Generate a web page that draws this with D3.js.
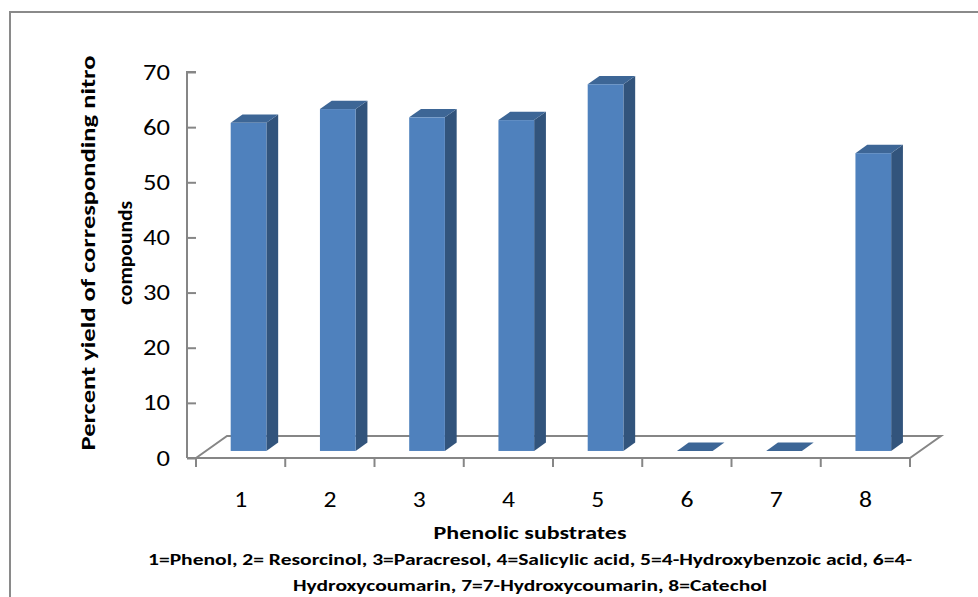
<!DOCTYPE html>
<html>
<head>
<meta charset="utf-8">
<script src="https://cdn.jsdelivr.net/npm/d3@7"></script>
<style>
  body { margin: 0; background: #fff; }
  svg text { font-family: Carlito, Calibri, "Open Sans", sans-serif; fill: #000; }
</style>
</head>
<body>
<div id="chart"></div>
<script>
const categories = ['1', '2', '3', '4', '5', '6', '7', '8'];
const yields = [59.5, 62, 60.5, 60, 66.5, 0, 0, 54];
const yTicks = [0, 10, 20, 30, 40, 50, 60, 70];
const yTitle = ['Percent yield of corresponding nitro', 'compounds'];
const xTitle = 'Phenolic substrates';
const notes = [
  '1=Phenol, 2= Resorcinol, 3=Paracresol, 4=Salicylic acid, 5=4-Hydroxybenzoic acid, 6=4-',
  'Hydroxycoumarin, 7=7-Hydroxycoumarin, 8=Catechol'
];

const width = 978, height = 597;
const depth = { x: 31, y: -22 };   // full floor depth offset
const barDepth = [0.32, 0.70];     // bar front/back as fraction of depth
const colors = { front: '#4f81bd', side: '#32547c', top: '#3d6696', axis: '#868686' };

const svg = d3.select('#chart').append('svg')
  .attr('width', width)
  .attr('height', height);

// outer border
svg.append('rect')
  .attr('x', 10).attr('y', 12)
  .attr('width', 990).attr('height', 600)
  .attr('fill', 'none')
  .attr('stroke', '#8a8a8a')
  .attr('stroke-width', 2);

const x = d3.scaleBand().domain(categories).range([196, 910]);
const y = d3.scaleLinear().domain([0, 70]).range([458, 72]);

// projected point: band position px, value v, depth fraction d
const P = (px, v, d) => [px + depth.x * d, y(v) + depth.y * d];
const poly = pts => pts.map(p => p.join(',')).join(' ');

// floor
const floor = svg.append('g')
  .attr('fill', 'none')
  .attr('stroke', colors.axis)
  .attr('stroke-width', 2);
const x0 = x.range()[0], x1 = x.range()[1];
floor.append('polyline')
  .attr('points', poly([P(x0, 0, 0), P(x0, 0, 1), P(x1, 0, 1), P(x1, 0, 0)]));

// bars
const bw = x.bandwidth() * 0.4;
const bars = svg.append('g').selectAll('g')
  .data(categories.map((c, i) => ({ c, v: yields[i] })))
  .join('g');

bars.each(function (d) {
  const g = d3.select(this);
  const l = x(d.c) + (x.bandwidth() - bw) / 2 - 2;
  const r = l + bw;
  const [f, b] = barDepth;
  if (d.v > 0) {
    g.append('polygon')
      .attr('points', poly([P(r, 0, f), P(r, 0, b), P(r, d.v, b), P(r, d.v, f)]))
      .attr('fill', colors.side);
    g.append('polygon')
      .attr('points', poly([P(l, d.v, f), P(r, d.v, f), P(r, d.v, b), P(l, d.v, b)]))
      .attr('fill', colors.top);
    g.append('rect')
      .attr('x', P(l, 0, f)[0])
      .attr('y', P(l, d.v, f)[1])
      .attr('width', bw)
      .attr('height', y(0) - y(d.v))
      .attr('fill', colors.front);
  } else {
    g.append('polygon')
      .attr('points', poly([P(l, 0, f), P(r, 0, f), P(r, 0, b), P(l, 0, b)]))
      .attr('fill', colors.top);
  }
});

// y axis
const yAxis = svg.append('g')
  .attr('transform', `translate(${x0},0)`)
  .call(d3.axisLeft(y).tickValues(yTicks).tickSize(9).tickPadding(17));
yAxis.selectAll('path, line').attr('stroke', colors.axis).attr('stroke-width', 2);
yAxis.select('.domain').attr('d', `M0,${y(70)}H-9V${y(0)}`);
yAxis.selectAll('text')
  .attr('font-size', 22).attr('font-family', null)
  .attr('textLength', d => String(d).length * 13.5)
  .attr('lengthAdjust', 'spacingAndGlyphs');

// x axis
const xAxis = svg.append('g')
  .attr('transform', `translate(0,${y(0)})`)
  .call(d3.axisBottom(x).tickSize(0).tickPadding(33));
xAxis.select('.domain').attr('stroke', colors.axis).attr('stroke-width', 2)
  .attr('d', `M${x0 - 9},0H${x1}`);
xAxis.selectAll('text')
  .attr('font-size', 22).attr('font-family', null)
  .attr('textLength', 13)
  .attr('lengthAdjust', 'spacingAndGlyphs');
svg.append('g').selectAll('line')
  .data(categories.concat(['end']))
  .join('line')
  .attr('x1', (d, i) => x0 + i * x.step())
  .attr('x2', (d, i) => x0 + i * x.step())
  .attr('y1', y(0)).attr('y2', y(0) + 9)
  .attr('stroke', colors.axis).attr('stroke-width', 2);

// titles
svg.append('g')
  .attr('transform', 'translate(88,253) rotate(-90)')
  .selectAll('text')
  .data(yTitle)
  .join('text')
  .attr('y', (d, i) => i * 37)
  .attr('dy', '0.35em')
  .attr('text-anchor', 'middle')
  .attr('font-size', 21)
  .attr('font-weight', 'bold')
  .attr('textLength', (d, i) => i === 0 ? 395 : 104)
  .attr('lengthAdjust', 'spacingAndGlyphs')
  .text(d => d);

svg.append('text')
  .attr('x', 530).attr('y', 532)
  .attr('dy', '0.35em')
  .attr('text-anchor', 'middle')
  .attr('font-size', 19)
  .attr('font-weight', 'bold')
  .attr('textLength', 193)
  .attr('lengthAdjust', 'spacingAndGlyphs')
  .text(xTitle);

svg.append('g').selectAll('text')
  .data(notes)
  .join('text')
  .attr('x', 530)
  .attr('y', (d, i) => 559 + i * 26)
  .attr('dy', '0.35em')
  .attr('text-anchor', 'middle')
  .attr('font-size', 16)
  .attr('font-weight', 'bold')
  .attr('textLength', (d, i) => i === 0 ? 764 : 474)
  .attr('lengthAdjust', 'spacingAndGlyphs')
  .text(d => d);
</script>
</body>
</html>
